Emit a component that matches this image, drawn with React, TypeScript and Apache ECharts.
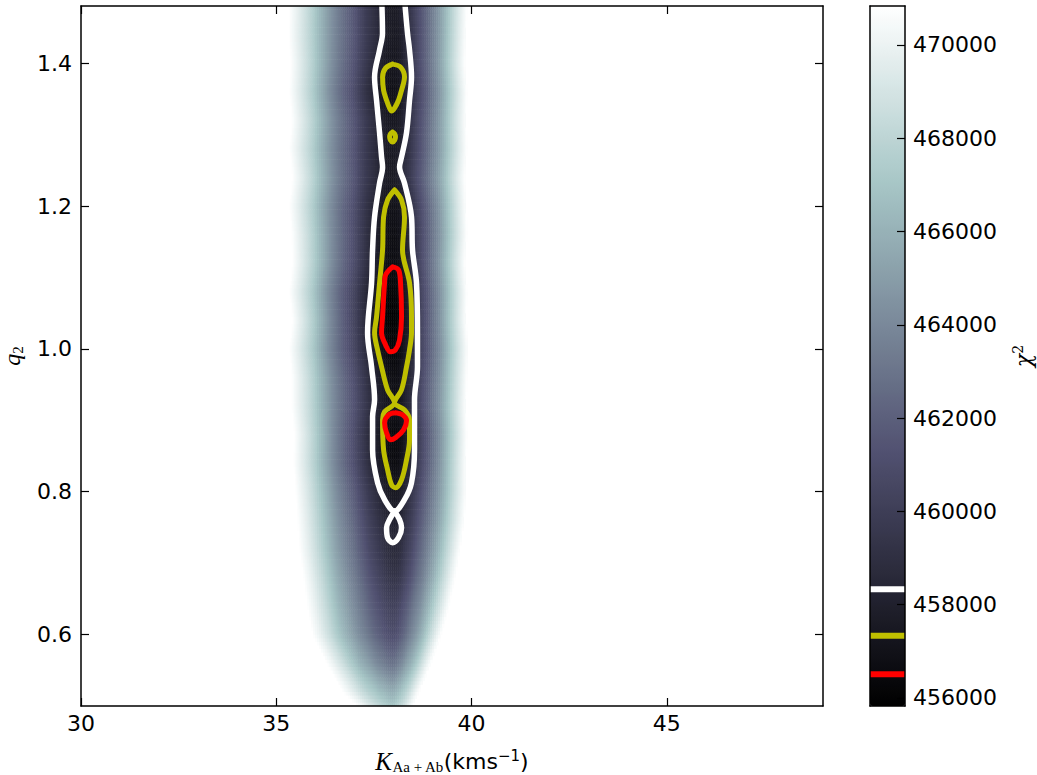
import React, { useEffect, useRef } from "react";
import * as echarts from "echarts";

// ---- axis extents ----
const K_MIN = 30;
const K_MAX = 49;
const Q_MIN = 0.5;
const Q_MAX = 1.48;
const CHI2_MIN = 455824;
const CHI2_MAX = 470836;

// ---- tick labels ----
const xTickValues = [30, 35, 40, 45];
const yTickValues = [0.6, 0.8, 1.0, 1.2, 1.4];
const cbTickValues = [456000, 458000, 460000, 462000, 464000, 466000, 468000, 470000];

// ---- contour levels (chi^2) ----
const levelValues = [456506, 457328, 458327];
const levelColors = ["#ff0000", "#bfbf00", "#ffffff"];

// ---- chi^2 valley, row by row ----
const qRows = [0.48, 0.52, 0.56, 0.6, 0.64, 0.68, 0.72, 0.76, 0.8, 0.84, 0.88, 0.92, 0.96, 1.0, 1.04, 1.08, 1.12, 1.16, 1.2, 1.24, 1.28, 1.32, 1.36, 1.4, 1.44, 1.48, 1.52];
const rowCenterK = [37.98, 37.98, 37.98, 38.0, 38.0, 38.03, 38.03, 38.03, 38.03, 38.03, 38.03, 38.03, 38.03, 38.0, 37.98, 37.98, 38.0, 38.0, 38.0, 37.95, 37.98, 38.0, 37.98, 38.0, 38.03, 38.0, 38.0];
const rowMinChi2 = [468500, 465800, 462900, 461000, 460200, 459300, 458600, 458050, 457380, 456560, 456300, 457000, 456700, 456200, 455900, 456050, 456600, 456650, 456930, 457550, 457450, 457350, 456800, 457250, 457500, 457600, 457700];
const rowLeftEdgeK = [37.44, 36.7, 36.29, 35.93, 35.8, 35.7, 35.6, 35.55, 35.5, 35.45, 35.47, 35.4, 35.4, 35.34, 35.42, 35.34, 35.42, 35.4, 35.34, 35.42, 35.34, 35.4, 35.34, 35.37, 35.32, 35.34, 35.34];
const rowRightEdgeK = [38.36, 38.67, 38.97, 39.23, 39.43, 39.59, 39.72, 39.82, 39.87, 39.87, 39.89, 39.87, 39.89, 39.92, 39.87, 39.89, 39.84, 39.89, 39.87, 39.84, 39.89, 39.87, 39.89, 39.84, 39.87, 39.89, 39.89];
// valley cross-section: fraction of distance to the edge -> fraction of rise to the top of the scale
const profileT = [0, 0.05, 0.1, 0.16, 0.25, 0.35, 0.48, 0.62, 0.78, 0.9, 1.0];
const profileF = [0, 0.012, 0.041, 0.096, 0.165, 0.27, 0.39, 0.55, 0.76, 0.9, 1.0];

// ---- contour outlines [K, q2] ----
const whiteMain = [[37.7, 1.49], [37.72, 1.442], [37.645, 1.4185], [37.517, 1.3805], [37.568, 1.348], [37.645, 1.3028], [37.696, 1.2685], [37.722, 1.2545], [37.645, 1.232], [37.517, 1.1846], [37.466, 1.1385], [37.44, 1.0923], [37.338, 1.0224], [37.44, 0.9748], [37.517, 0.9287], [37.466, 0.9049], [37.466, 0.8587], [37.594, 0.8126], [37.773, 0.7888], [38.029, 0.7727], [38.284, 0.7888], [38.463, 0.8126], [38.54, 0.8587], [38.54, 0.9049], [38.54, 0.9287], [38.616, 0.9748], [38.616, 1.0224], [38.591, 1.0923], [38.489, 1.1385], [38.463, 1.1846], [38.284, 1.232], [38.157, 1.2545], [38.208, 1.2685], [38.336, 1.3028], [38.412, 1.348], [38.463, 1.3805], [38.412, 1.4185], [38.361, 1.442], [38.284, 1.49]];
const whiteLower = [[38.029, 0.7727], [38.157, 0.761], [38.208, 0.7497], [38.131, 0.7357], [37.978, 0.7287], [37.85, 0.7357], [37.824, 0.7497], [37.901, 0.761], [38.029, 0.7727]];
const yellowUpper = [[37.978, 1.3986], [37.799, 1.393], [37.722, 1.3805], [37.748, 1.362], [37.824, 1.348], [37.901, 1.337], [37.952, 1.333], [38.029, 1.337], [38.131, 1.348], [38.208, 1.362], [38.284, 1.3805], [38.182, 1.3944], [37.978, 1.3986]];
const yellowBlob = [[37.978, 1.3035], [38.03, 1.301], [38.053, 1.2965], [38.03, 1.292], [37.978, 1.2895], [37.926, 1.292], [37.903, 1.2965], [37.926, 1.301], [37.978, 1.3035]];
const yellowLower = [[38.029, 1.2224], [37.85, 1.2084], [37.748, 1.1846], [37.722, 1.1385], [37.645, 1.0923], [37.568, 1.0448], [37.517, 1.0224], [37.594, 0.9986], [37.696, 0.9748], [37.85, 0.9427], [38.029, 0.9245], [37.773, 0.9119], [37.722, 0.9007], [37.748, 0.8587], [37.85, 0.8308], [37.952, 0.8098], [38.054, 0.8056], [38.208, 0.8168], [38.336, 0.8448], [38.412, 0.8727], [38.412, 0.9007], [38.284, 0.9147], [38.029, 0.9245], [38.208, 0.9427], [38.336, 0.9748], [38.412, 0.9986], [38.463, 1.0224], [38.463, 1.0448], [38.412, 1.0923], [38.233, 1.1385], [38.284, 1.1846], [38.208, 1.2084], [38.029, 1.2224]];
const redUpper = [[37.978, 1.1147], [37.799, 1.1035], [37.773, 1.0923], [37.722, 1.0448], [37.696, 1.0224], [37.799, 1.0056], [37.926, 0.9958], [38.054, 0.9986], [38.157, 1.0126], [38.208, 1.0448], [38.182, 1.0923], [38.131, 1.1105], [37.978, 1.1147]];
const redLower = [[38.054, 0.9105], [38.233, 0.9077], [38.336, 0.8993], [38.259, 0.8867], [38.054, 0.8755], [37.926, 0.8727], [37.824, 0.8825], [37.773, 0.8965], [37.875, 0.9077], [38.054, 0.9105]];

// ---- bone colour map ----
function bone(v: number): string {
  const r = v < 0.746032 ? (v * 0.652778) / 0.746032 : 0.652778 + ((v - 0.746032) / 0.253968) * 0.347222;
  const g =
    v < 0.365079
      ? (v * 0.319444) / 0.365079
      : v < 0.746032
      ? 0.319444 + ((v - 0.365079) / 0.380953) * 0.458334
      : 0.777778 + ((v - 0.746032) / 0.253968) * 0.222222;
  const b = v < 0.365079 ? (v * 0.444444) / 0.365079 : 0.444444 + ((v - 0.365079) / 0.634921) * 0.555556;
  const h = (x: number) => Math.round(Math.min(1, Math.max(0, x)) * 255);
  return `rgb(${h(r)},${h(g)},${h(b)})`;
}
const boneColors = Array.from({ length: 61 }, (_, i) => bone(i / 60));

function interp(xs: number[], ys: number[], x: number): number {
  if (x <= xs[0]) return ys[0];
  for (let i = 1; i < xs.length; i++) {
    if (x <= xs[i]) {
      const u = (x - xs[i - 1]) / (xs[i] - xs[i - 1]);
      return ys[i - 1] + u * (ys[i] - ys[i - 1]);
    }
  }
  return ys[ys.length - 1];
}

// heatmap table built from the row description
const K_STEP = 0.05;
const Q_STEP = 0.005;
const nK = Math.round((K_MAX - K_MIN) / K_STEP);
const nQ = Math.round((Q_MAX - Q_MIN) / Q_STEP);
const kCats = Array.from({ length: nK }, (_, i) => (K_MIN + (i + 0.5) * K_STEP).toFixed(3));
const qCats = Array.from({ length: nQ }, (_, j) => (Q_MIN + (j + 0.5) * Q_STEP).toFixed(4));

function buildHeat(): number[][] {
  const out: number[][] = [];
  for (let j = 0; j < nQ; j++) {
    const q = Q_MIN + (j + 0.5) * Q_STEP;
    const c = interp(qRows, rowCenterK, q);
    const m = interp(qRows, rowMinChi2, q);
    const L = interp(qRows, rowLeftEdgeK, q);
    const R = interp(qRows, rowRightEdgeK, q);
    for (let i = 0; i < nK; i++) {
      const k = K_MIN + (i + 0.5) * K_STEP;
      const d = k - c;
      const span = d < 0 ? c - L : R - c;
      const t = Math.abs(d) / span;
      if (t >= 1) continue;
      const f = interp(profileT, profileF, t);
      out.push([i, j, Math.round(m + (CHI2_MAX - m) * f)]);
    }
  }
  return out;
}

const lineBlack = { color: "#000", width: 1.5 };
const tickBlack = { color: "#000", width: 1.2 };
const tickFont = { fontFamily: "DejaVu Sans", fontSize: 22, color: "#000" };

function buildOption(): any {
  const heat = buildHeat();
  const contours = [
    { d: whiteMain, c: "#ffffff", w: 5.5 },
    { d: whiteLower, c: "#ffffff", w: 5.5 },
    { d: yellowUpper, c: "#bfbf00", w: 5 },
    { d: yellowBlob, c: "#bfbf00", w: 5 },
    { d: yellowLower, c: "#bfbf00", w: 5 },
    { d: redUpper, c: "#ff0000", w: 5 },
    { d: redLower, c: "#ff0000", w: 5 },
  ];
  return {
    animation: false,
    backgroundColor: "#ffffff",
    grid: [
      { left: 81, top: 6, width: 742, height: 700, containLabel: false, outerBoundsMode: "none" },
      { left: 870, top: 6, width: 35, height: 700, containLabel: false, outerBoundsMode: "none" },
    ],
    visualMap: {
      type: "continuous",
      seriesIndex: 0,
      dimension: 2,
      min: CHI2_MIN,
      max: CHI2_MAX,
      calculable: false,
      hoverLink: false,
      orient: "vertical",
      align: "left",
      left: 870,
      top: 6,
      itemWidth: 35,
      itemHeight: 700,
      padding: 0,
      z: 1,
      inRange: { color: boneColors },
    },
    xAxis: [
      { type: "category", gridIndex: 0, data: kCats, show: false },
      {
        type: "value", gridIndex: 0, min: K_MIN, max: K_MAX, position: "bottom", z: 5,
        axisLine: { show: true, onZero: false, lineStyle: lineBlack },
        axisTick: { show: true, inside: true, length: 8, lineStyle: tickBlack, customValues: xTickValues },
        axisLabel: { show: true, customValues: xTickValues, margin: 6, ...tickFont },
        splitLine: { show: false },
        name: "{k|K}{sub|Aa + Ab}{t|(kms}{sup|−1}{t|)}",
        nameLocation: "middle",
        nameGap: 42,
        nameTextStyle: {
          rich: {
            k: { fontFamily: "Liberation Serif", fontStyle: "italic", fontSize: 25, lineHeight: 26, color: "#000" },
            sub: { fontFamily: "Liberation Serif", fontSize: 15, lineHeight: 16, verticalAlign: "bottom", color: "#000" },
            t: { fontFamily: "DejaVu Sans", fontSize: 22, lineHeight: 26, color: "#000" },
            sup: { fontFamily: "DejaVu Sans", fontSize: 15, lineHeight: 16, verticalAlign: "top", color: "#000" },
          },
        },
      },
      {
        type: "value", gridIndex: 0, min: K_MIN, max: K_MAX, position: "top", z: 5,
        axisLine: { show: true, onZero: false, lineStyle: lineBlack },
        axisTick: { show: true, inside: true, length: 8, lineStyle: tickBlack, customValues: xTickValues },
        axisLabel: { show: false },
        splitLine: { show: false },
      },
      {
        type: "value", gridIndex: 1, min: 0, max: 1, position: "bottom", z: 7,
        axisLine: { show: true, onZero: false, lineStyle: lineBlack },
        axisTick: { show: false }, axisLabel: { show: false }, splitLine: { show: false },
      },
      {
        type: "value", gridIndex: 1, min: 0, max: 1, position: "top", z: 7,
        axisLine: { show: true, onZero: false, lineStyle: lineBlack },
        axisTick: { show: false }, axisLabel: { show: false }, splitLine: { show: false },
      },
    ],
    yAxis: [
      { type: "category", gridIndex: 0, data: qCats, show: false },
      {
        type: "value", gridIndex: 0, min: Q_MIN, max: Q_MAX, position: "left", z: 5,
        axisLine: { show: true, onZero: false, lineStyle: lineBlack },
        axisTick: { show: true, inside: true, length: 8, lineStyle: tickBlack, customValues: yTickValues },
        axisLabel: { show: true, customValues: yTickValues, margin: 9, formatter: (v: number) => v.toFixed(1), ...tickFont },
        splitLine: { show: false },
        name: "{q|q}{s|2}",
        nameLocation: "middle",
        nameRotate: 90,
        nameGap: 56,
        nameTextStyle: {
          rich: {
            q: { fontFamily: "Liberation Serif", fontStyle: "italic", fontSize: 24, lineHeight: 26, color: "#000" },
            s: { fontFamily: "Liberation Serif", fontSize: 15, lineHeight: 16, verticalAlign: "bottom", color: "#000" },
          },
        },
      },
      {
        type: "value", gridIndex: 0, min: Q_MIN, max: Q_MAX, position: "right", z: 5,
        axisLine: { show: true, onZero: false, lineStyle: lineBlack },
        axisTick: { show: true, inside: true, length: 8, lineStyle: tickBlack, customValues: yTickValues },
        axisLabel: { show: false },
        splitLine: { show: false },
      },
      {
        type: "value", gridIndex: 1, min: CHI2_MIN, max: CHI2_MAX, position: "right", z: 7,
        axisLine: { show: true, onZero: false, lineStyle: lineBlack },
        axisTick: { show: true, inside: true, length: 8, lineStyle: tickBlack, customValues: cbTickValues },
        axisLabel: { show: true, customValues: cbTickValues, margin: 8, formatter: (v: number) => String(v), ...tickFont },
        splitLine: { show: false },
        name: "{c|χ}{s|2}",
        nameLocation: "middle",
        nameRotate: 90,
        nameGap: 106,
        nameTextStyle: {
          rich: {
            c: { fontFamily: "DejaVu Serif", fontStyle: "italic", fontSize: 22, lineHeight: 24, color: "#000" },
            s: { fontFamily: "DejaVu Serif", fontSize: 14, lineHeight: 14, verticalAlign: "top", color: "#000" },
          },
        },
      },
      {
        type: "value", gridIndex: 1, min: CHI2_MIN, max: CHI2_MAX, position: "left", z: 7,
        axisLine: { show: true, onZero: false, lineStyle: lineBlack },
        axisTick: { show: false }, axisLabel: { show: false }, splitLine: { show: false },
      },
    ],
    series: [
      {
        type: "heatmap",
        xAxisIndex: 0,
        yAxisIndex: 0,
        data: heat,
        progressive: 0,
        silent: true,
        emphasis: { disabled: true },
        z: 2,
      },
      ...contours.map((c) => ({
        type: "line",
        xAxisIndex: 1,
        yAxisIndex: 1,
        data: c.d,
        smooth: 0.35,
        symbol: "none",
        silent: true,
        clip: true,
        z: 3,
        lineStyle: { color: c.c, width: c.w, cap: "round", join: "round" },
      })),
      ...levelValues.map((lv, i) => ({
        type: "line",
        xAxisIndex: 3,
        yAxisIndex: 3,
        data: [[0, lv], [1, lv]],
        symbol: "none",
        silent: true,
        z: 6,
        lineStyle: { color: levelColors[i], width: 6 },
      })),
    ],
  };
}

export default function App() {
  const ref = useRef<HTMLDivElement>(null);
  useEffect(() => {
    if (!ref.current) return;
    const chart = echarts.init(ref.current, null, { renderer: "svg" });
    chart.setOption(buildOption());
    return () => chart.dispose();
  }, []);
  return (
    <div
      ref={ref}
      style={{ position: "fixed", left: 0, top: 0, width: 1037, height: 775, background: "#ffffff" }}
    />
  );
}
